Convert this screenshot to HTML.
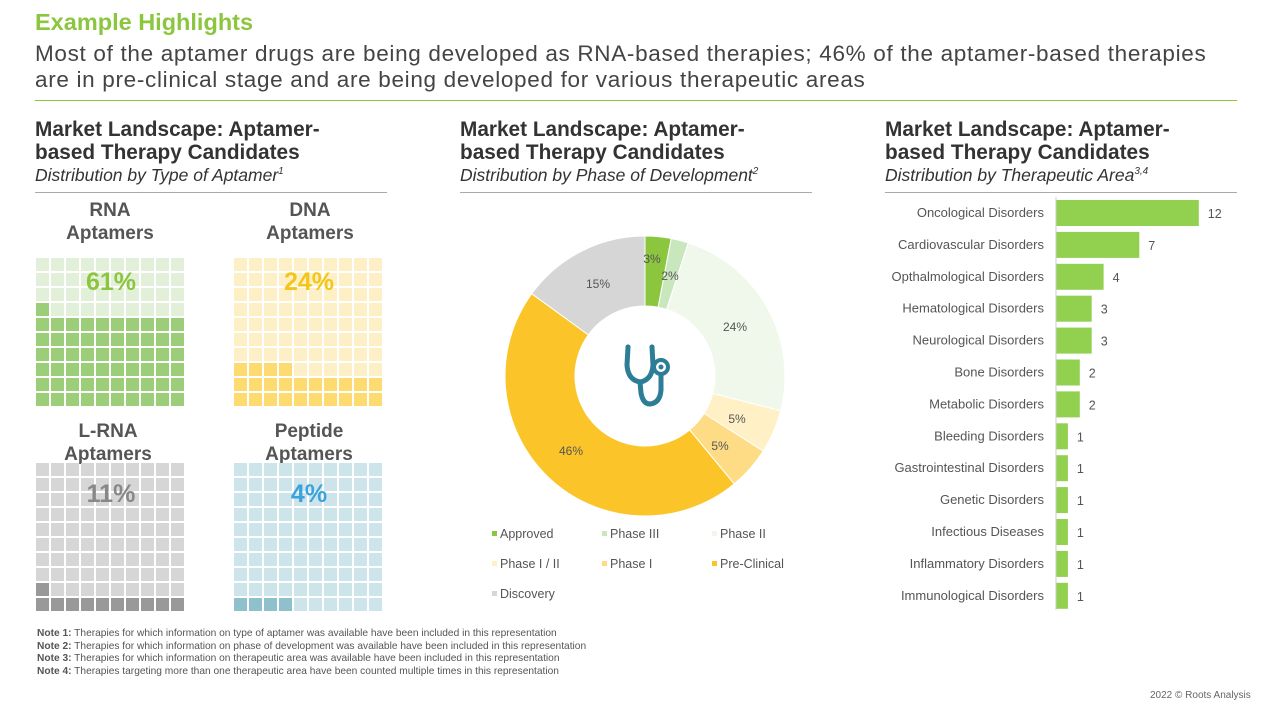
<!DOCTYPE html>
<html><head><meta charset="utf-8"><style>
body{margin:0;width:1280px;height:720px;background:#fff;font-family:"Liberation Sans",Arial,sans-serif;position:relative;overflow:hidden}
.a{position:absolute}
.h{font-size:20.8px;font-weight:bold;color:#333;line-height:23px}
.sub{font-size:17.5px;font-style:italic;color:#333}
.wt{font-size:19px;font-weight:bold;color:#555;text-align:center;line-height:23px;width:150px}
.note{font-size:10.2px;color:#555;line-height:12.5px}
</style></head><body>
<div class="a" style="left:35px;top:9px;font-size:23.5px;font-weight:bold;color:#8cc63f">Example Highlights</div>
<div class="a" style="left:35px;top:41px;font-size:22.5px;letter-spacing:0.68px;color:#444;line-height:26px;width:1230px;white-space:nowrap">Most of the aptamer drugs are being developed as RNA-based therapies; 46% of the aptamer-based therapies<br>are in pre-clinical stage and are being developed for various therapeutic areas</div>
<div class="a" style="left:35px;top:100px;width:1202px;height:1px;background:#8cc63f"></div>

<div class="a h" style="left:35px;top:118px">Market Landscape: Aptamer-<br>based Therapy Candidates</div>
<div class="a sub" style="left:35px;top:165px">Distribution by Type of Aptamer<sup style="font-size:10px">1</sup></div>
<div class="a" style="left:35px;top:192px;width:352px;height:1px;background:#aaa"></div>
<div class="a h" style="left:460px;top:118px">Market Landscape: Aptamer-<br>based Therapy Candidates</div>
<div class="a sub" style="left:460px;top:165px">Distribution by Phase of Development<sup style="font-size:10px">2</sup></div>
<div class="a" style="left:460px;top:192px;width:352px;height:1px;background:#aaa"></div>
<div class="a h" style="left:885px;top:118px">Market Landscape: Aptamer-<br>based Therapy Candidates</div>
<div class="a sub" style="left:885px;top:165px">Distribution by Therapeutic Area<sup style="font-size:10px">3,4</sup></div>
<div class="a" style="left:885px;top:192px;width:352px;height:1px;background:#aaa"></div>

<div class="a wt" style="left:35px;top:199px">RNA<br>Aptamers</div>
<div class="a wt" style="left:235px;top:199px">DNA<br>Aptamers</div>
<div class="a wt" style="left:33px;top:420px">L-RNA<br>Aptamers</div>
<div class="a wt" style="left:234px;top:420px">Peptide<br>Aptamers</div>

<svg class="a" style="left:0;top:0" width="1280" height="720" id="s"></svg>

<div class="a" style="left:36px;top:268px;width:150px;text-align:center;font-size:25px;font-weight:bold;color:#8cc63f">61%</div>
<div class="a" style="left:234px;top:268px;width:150px;text-align:center;font-size:25px;font-weight:bold;color:#f5c518">24%</div>
<div class="a" style="left:36px;top:480px;width:150px;text-align:center;font-size:25px;font-weight:bold;color:#888">11%</div>
<div class="a" style="left:234px;top:480px;width:150px;text-align:center;font-size:25px;font-weight:bold;color:#3ba3dc">4%</div>

<div class="a note" style="left:37px;top:628px"><b>Note 1:</b> Therapies for which information on type of aptamer was available have been included in this representation<br><b>Note 2:</b> Therapies for which information on phase of development was available have been included in this representation<br><b>Note 3:</b> Therapies for which information on therapeutic area was available have been included in this representation<br><b>Note 4:</b> Therapies targeting more than one therapeutic area have been counted multiple times in this representation</div>
<div class="a" style="left:1150px;top:690px;font-size:10px;color:#666">2022 © Roots Analysis</div>

<script>
const s=document.getElementById('s');let h='';
function waffle(x0,y0,n,on,off){for(let r=0;r<10;r++)for(let c=0;c<10;c++){const idx=(9-r)*10+c;h+=`<rect x="${x0+c*15+1}" y="${y0+r*15+1}" width="13" height="13" fill="${idx<n?on:off}"/>`;}}
waffle(35,257,61,'#9ccd78','#e2efd9');
waffle(233,257,24,'#fddb70','#fdf0c6');
waffle(35,462,11,'#999','#d6d6d6');
waffle(233,462,4,'#8fc1cc','#cde4ea');
const cx=645,cy=376,R=140,r=70;
const d=[[3,'#8cc63f'],[2,'#c9e7bd'],[24,'#f0f8ec'],[5,'#fff0c6'],[5,'#fddc85'],[46,'#fbc52a'],[15,'#d6d6d6']];
let a=0;
function pt(rad,ang){const t=(ang/100)*2*Math.PI-Math.PI/2;return [cx+rad*Math.cos(t),cy+rad*Math.sin(t)];}
d.forEach(([v,c])=>{const b=a+v;const [x1,y1]=pt(R,a),[x2,y2]=pt(R,b),[x3,y3]=pt(r,b),[x4,y4]=pt(r,a);const L=v>50?1:0;
h+=`<path d="M${x1},${y1}A${R},${R} 0 ${L} 1 ${x2},${y2}L${x3},${y3}A${r},${r} 0 ${L} 0 ${x4},${y4}Z" fill="${c}" stroke="#fff" stroke-width="1"/>`;a=b;});
[['3%',652,263],['2%',670,280],['24%',735,331],['5%',737,423],['5%',720,450],['46%',571,455],['15%',598,288]].forEach(([t,x,y])=>h+=`<text x="${x}" y="${y}" font-size="12" fill="#555" text-anchor="middle">${t}</text>`);
h+=`<g fill="none" stroke="#2e7d97" stroke-width="5" stroke-linecap="round"><path d="M628,347 L627,365 Q628,380 640,382 Q652,380 653,365 L652,347"/><path d="M640,382 L641,393 Q643,404 650,404 Q660,403 661,390 L661,376"/></g><circle cx="661" cy="367" r="7" fill="none" stroke="#2e7d97" stroke-width="4"/><circle cx="661" cy="367" r="2.5" fill="#2e7d97"/><circle cx="628" cy="347" r="2.5" fill="#2e7d97"/><circle cx="652" cy="347" r="2.5" fill="#2e7d97"/>`;
[['Approved','#8cc63f',492,538],['Phase III','#c9e7bd',602,538],['Phase II','#f0f8ec',712,538],['Phase I / II','#fff0c6',492,568],['Phase I','#fddc85',602,568],['Pre-Clinical','#fbc52a',712,568],['Discovery','#d6d6d6',492,598]].forEach(([t,c,x,y])=>{h+=`<rect x="${x}" y="${y-7}" width="5" height="5" fill="${c}"/><text x="${x+8}" y="${y}" font-size="12.5" fill="#555">${t}</text>`;});
const bars=[['Oncological Disorders',12],['Cardiovascular Disorders',7],['Opthalmological Disorders',4],['Hematological Disorders',3],['Neurological Disorders',3],['Bone Disorders',2],['Metabolic Disorders',2],['Bleeding Disorders',1],['Gastrointestinal Disorders',1],['Genetic Disorders',1],['Infectious Diseases',1],['Inflammatory Disorders',1],['Immunological Disorders',1]];
bars.forEach(([t,v],i)=>{const y=213+i*31.9;h+=`<rect x="1056" y="${y-13}" width="${v*11.9}" height="26" fill="#92d050"/><text x="1044" y="${y+4}" font-size="13" fill="#555" text-anchor="end">${t}</text><text x="${1056+v*11.9+9}" y="${y+5}" font-size="12.5" fill="#555">${v}</text>`;});
h+=`<line x1="1056" y1="197" x2="1056" y2="610" stroke="#ccc"/>`;
s.innerHTML=h;
</script>
</body></html>
